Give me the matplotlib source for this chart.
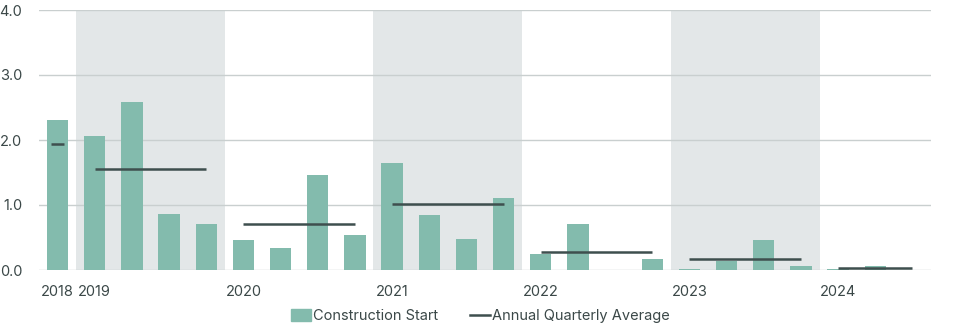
import numpy as np
import matplotlib.pyplot as plt
from matplotlib.lines import Line2D
from matplotlib.patches import Patch

plt.rcParams['font.family'] = ['Inter', 'DejaVu Sans']

# quarterly construction starts, 2018 Q4 through 2024 Q3
years = [2018, 2019, 2020, 2021, 2022, 2023, 2024]
starts = {
    2018: [2.31],
    2019: [2.06, 2.58, 0.86, 0.71],
    2020: [0.46, 0.34, 1.46, 0.54],
    2021: [1.65, 0.85, 0.48, 1.11],
    2022: [0.25, 0.71, 0.00, 0.17],
    2023: [0.015, 0.14, 0.46, 0.06],
    2024: [0.015, 0.06, 0.00],
}
avg = {2018: 1.94, 2019: 1.55, 2020: 0.71, 2021: 1.02, 2022: 0.28, 2023: 0.17, 2024: 0.035}
shaded_years = [2019, 2021, 2023]

bar_color = '#83bbad'
line_color = '#3e4f4e'
band_color = '#e3e7e8'
grid_color = '#c9cfcf'
text_color = '#3b4848'

fig = plt.figure(figsize=(9.6, 3.26), dpi=100)
ax = fig.add_axes([39 / 960, 56 / 326, 892 / 960, 260 / 326])

pos = 0
first_pos = {}
for y in years:
    vals = starts[y]
    xs = np.arange(pos, pos + len(vals))
    first_pos[y] = pos
    ax.bar(xs, vals, width=0.57, color=bar_color, zorder=2)
    if y in shaded_years:
        ax.axvspan(pos - 0.5, pos + len(vals) - 0.5, color=band_color, zorder=0, lw=0)
    if len(vals) == 1:
        x0, x1 = pos - 0.17, pos + 0.17
    else:
        x0, x1 = xs[0], xs[-1]
    ax.plot([x0, x1], [avg[y], avg[y]], color=line_color, lw=1.8, zorder=3,
            solid_capstyle='butt')
    pos += len(vals)

ax.set_xlim(-0.5, pos - 0.5)
ax.set_ylim(0, 4)
ax.set_yticks([0, 1, 2, 3, 4])
ax.set_yticklabels(['0.0', '1.0', '2.0', '3.0', '4.0'])
ax.set_xticks([first_pos[y] for y in years])
ax.set_xticklabels([str(y) for y in years])
ax.tick_params(length=0, labelsize=10.5, labelcolor=text_color)
ax.tick_params(axis='y', pad=12)
ax.tick_params(axis='x', pad=11)
ax.grid(axis='y', color=grid_color, lw=1, zorder=1)
ax.set_axisbelow(True)
for s in ax.spines.values():
    s.set_visible(False)

handles = [Patch(color=bar_color, label='Construction Start'),
           Line2D([], [], color=line_color, lw=1.8, label='Annual Quarterly Average')]
fig.legend(handles=handles, loc='center', bbox_to_anchor=(0.5, 10 / 326), ncol=2,
           frameon=False, fontsize=10.5, labelcolor=text_color, handlelength=1.4,
           handletextpad=0.1, columnspacing=2.2, handleheight=0.8)

fig.savefig('out.png', dpi=100)
